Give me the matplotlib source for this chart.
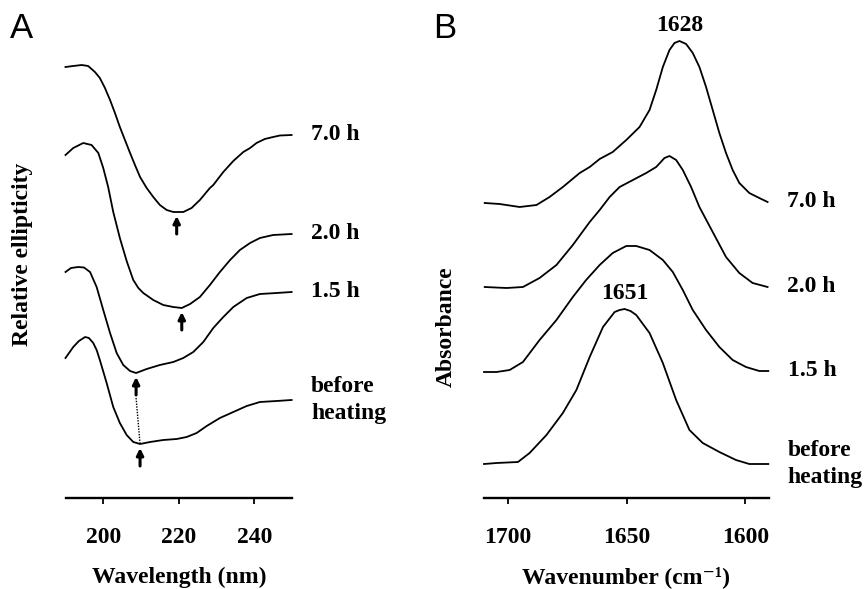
import matplotlib
matplotlib.use("Agg")
import matplotlib.pyplot as plt
import numpy as np

# ---------------- Panel A: CD spectra (relative ellipticity, arbitrary units) ----------------
wl_70 = [190.0, 192.05, 194.3, 196.0, 197.8, 199.1, 200.45, 201.8, 203.1, 204.4, 205.75, 207.1,
         208.4, 209.75, 211.5, 213.25, 215.0, 216.8, 218.55, 219.45, 221.2, 223.4, 225.6, 228.25,
         229.15, 231.8, 234.45, 237.1, 238.9, 240.6, 242.8, 245.0, 246.8, 249.9]
cd_70 = [4.31, 4.32, 4.33, 4.32, 4.26, 4.20, 4.10, 3.98, 3.85, 3.71, 3.58, 3.45,
         3.33, 3.21, 3.10, 3.01, 2.93, 2.88, 2.86, 2.86, 2.86, 2.90, 2.98, 3.10,
         3.13, 3.26, 3.37, 3.46, 3.50, 3.55, 3.59, 3.61, 3.625, 3.63]

wl_20 = [190.0, 192.05, 194.7, 196.9, 198.7, 200.0, 201.3, 202.65, 204.4, 206.2, 207.95, 209.3,
         210.6, 213.25, 215.9, 218.55, 220.8, 223.0, 225.6, 228.25, 230.9, 233.6, 236.2, 238.9,
         241.5, 245.0, 249.9]
cd_20 = [3.43, 3.50, 3.55, 3.53, 3.45, 3.30, 3.11, 2.86, 2.60, 2.37, 2.18, 2.10,
         2.05, 1.98, 1.93, 1.91, 1.90, 1.94, 2.01, 2.13, 2.26, 2.38, 2.48, 2.55,
         2.60, 2.63, 2.64]

wl_15 = [190.0, 191.45, 193.4, 194.9, 196.5, 198.25, 200.0, 201.8, 203.55, 205.3, 207.1, 208.7,
         211.5, 215.0, 218.55, 221.2, 223.85, 226.5, 229.15, 231.8, 234.45, 238.0, 241.5, 245.9,
         249.9]
cd_15 = [2.26, 2.30, 2.31, 2.305, 2.26, 2.11, 1.88, 1.65, 1.45, 1.33, 1.27, 1.25,
         1.29, 1.33, 1.36, 1.40, 1.46, 1.56, 1.70, 1.81, 1.91, 2.00, 2.04, 2.05,
         2.06]

wl_00 = [190.0, 192.05, 193.55, 195.2, 196.2, 197.35, 198.25, 199.1, 200.9, 202.65, 204.4, 206.2,
         207.95, 209.75, 212.4, 215.9, 219.45, 222.1, 224.75, 227.4, 230.9, 234.45, 238.0, 241.5,
         245.9, 249.9]
cd_00 = [1.40, 1.51, 1.57, 1.61, 1.60, 1.55, 1.48, 1.38, 1.15, 0.91, 0.75, 0.63,
         0.56, 0.54, 0.56, 0.58, 0.59, 0.61, 0.65, 0.72, 0.80, 0.86, 0.92, 0.96,
         0.97, 0.98]

cd_labels = ["7.0 h", "2.0 h", "1.5 h", "before\nheating"]
cd_minima = [219.45, 220.8, 208.7, 209.75]   # arrow positions (nm)
wl_ticks = [200, 220, 240]

# ---------------- Panel B: FTIR amide I (absorbance, arbitrary units) ----------------
wn_70 = [1709.7, 1703.4, 1695.0, 1687.9, 1682.4, 1676.8, 1669.7, 1665.5, 1661.3, 1655.8, 1650.1,
         1644.5, 1640.3, 1637.5, 1634.7, 1631.9, 1629.8, 1627.7, 1624.9, 1622.1, 1619.3, 1616.5,
         1613.7, 1610.9, 1608.1, 1605.3, 1602.5, 1598.3, 1594.1, 1590.6]
ab_70 = [2.95, 2.94, 2.91, 2.93, 3.01, 3.11, 3.25, 3.31, 3.39, 3.46, 3.58,
         3.71, 3.88, 4.08, 4.31, 4.48, 4.55, 4.57, 4.54, 4.45, 4.31, 4.11,
         3.88, 3.65, 3.45, 3.28, 3.15, 3.05, 3.00, 2.96]

wn_20 = [1709.7, 1700.5, 1693.6, 1686.6, 1679.5, 1672.6, 1665.5, 1661.3, 1657.1, 1652.9, 1647.3,
         1641.7, 1637.5, 1634.0, 1631.9, 1629.1, 1626.3, 1622.8, 1619.3, 1613.7, 1608.1, 1602.5,
         1596.9, 1590.6]
ab_20 = [2.11, 2.10, 2.11, 2.20, 2.33, 2.53, 2.76, 2.88, 3.01, 3.11, 3.18,
         3.25, 3.31, 3.40, 3.42, 3.38, 3.28, 3.11, 2.91, 2.66, 2.41, 2.25,
         2.15, 2.11]

wn_15 = [1710.0, 1704.7, 1699.2, 1693.6, 1686.6, 1679.5, 1672.6, 1667.0, 1661.3, 1655.8, 1650.1,
         1645.9, 1640.3, 1634.7, 1630.5, 1626.3, 1622.1, 1616.5, 1610.9, 1605.3, 1599.7, 1594.1,
         1590.3]
ab_15 = [1.26, 1.26, 1.28, 1.36, 1.58, 1.78, 2.01, 2.18, 2.33, 2.45, 2.52,
         2.52, 2.48, 2.38, 2.26, 2.08, 1.88, 1.68, 1.51, 1.38, 1.31, 1.27,
         1.27]

wn_00 = [1710.0, 1704.7, 1695.7, 1690.8, 1683.7, 1676.8, 1671.1, 1665.5, 1659.9, 1655.0, 1652.9,
         1650.8, 1648.3, 1645.9, 1640.3, 1634.7, 1629.1, 1623.5, 1617.9, 1610.9, 1603.9, 1598.3,
         1590.3]
ab_00 = [0.34, 0.35, 0.36, 0.45, 0.63, 0.85, 1.08, 1.41, 1.71, 1.86, 1.88,
         1.89, 1.87, 1.83, 1.65, 1.35, 0.98, 0.68, 0.55, 0.46, 0.38, 0.34,
         0.34]

ir_labels = ["7.0 h", "2.0 h", "1.5 h", "before\nheating"]
ir_peaks = [("1628", 1627.7, 4.57), ("1651", 1650.8, 1.89)]
wn_ticks = [1700, 1650, 1600]

# ---------------- Figure ----------------
W, H = 865, 589
fig = plt.figure(figsize=(W / 100, H / 100), dpi=100)
serif = "Liberation Serif"
fs = 17

def px_axes(x0, x1, ybot, ytop):
    return fig.add_axes([x0 / W, 1 - ybot / H, (x1 - x0) / W, (ybot - ytop) / H])

axA = px_axes(65.5, 292, 498, 30)
axB = px_axes(484, 769, 498, 30)

for ax in (axA, axB):
    for s in ("left", "top", "right"):
        ax.spines[s].set_visible(False)
    ax.spines["bottom"].set_linewidth(1.7)
    ax.set_yticks([])
    ax.tick_params(axis="x", direction="out", length=4, width=1.3, pad=17)
    ax.set_ylim(0, 4.68)
    ax.patch.set_alpha(0)

axA.set_xlim(190, 250)
axB.set_xlim(1710, 1590)

lw = 1.3
cdset = [(wl_70, cd_70), (wl_20, cd_20), (wl_15, cd_15), (wl_00, cd_00)]
for (x, y), lab, xm in zip(cdset, cd_labels, cd_minima):
    axA.plot(x, y, color="black", lw=lw, clip_on=False, solid_joinstyle="round")
    axA.annotate(lab, xy=(x[-1], y[-1]), xytext=(14, 0), textcoords="offset points",
                 ha="left", va="center", fontsize=fs, family=serif, weight="bold",
                 linespacing=1.38, annotation_clip=False)
    ymin = np.interp(xm, x, y)
    tip = ymin - 0.04
    axA.annotate("", xy=(xm, tip), xytext=(xm, tip - 0.18),
                 arrowprops=dict(arrowstyle="-|>", color="black", lw=2.2,
                                 mutation_scale=10, shrinkA=0, shrinkB=0))

# dotted connector between 1.5 h and before-heating minima
y15 = np.interp(cd_minima[2], wl_15, cd_15) - 0.04 - 0.18 - 0.03
y00 = np.interp(cd_minima[3], wl_00, cd_00)
axA.plot([cd_minima[2], cd_minima[3]], [y15, y00], color="black", lw=1.0, ls=(0, (1, 1)))

axA.set_xticks(wl_ticks)
axA.set_xticklabels([str(t) for t in wl_ticks], fontsize=fs, family=serif, weight="bold")

irset = [(wn_70, ab_70), (wn_20, ab_20), (wn_15, ab_15), (wn_00, ab_00)]
for (x, y), lab in zip(irset, ir_labels):
    axB.plot(x, y, color="black", lw=lw, clip_on=False, solid_joinstyle="round")
    axB.annotate(lab, xy=(x[-1], y[-1]), xytext=(14, 0), textcoords="offset points",
                 ha="left", va="center", fontsize=fs, family=serif, weight="bold",
                 linespacing=1.38, annotation_clip=False)

for txt, xp, yp in ir_peaks:
    axB.annotate(txt, xy=(xp, yp), xytext=(0, 11), textcoords="offset points",
                 ha="center", va="center", fontsize=fs, family=serif, weight="bold",
                 annotation_clip=False)

axB.set_xticks(wn_ticks)
axB.set_xticklabels([str(t) for t in wn_ticks], fontsize=fs, family=serif, weight="bold")

# axis titles
fig.text(179.5 / W, 1 - 577 / H, "Wavelength (nm)", ha="center", va="center",
         fontsize=fs, family=serif, weight="bold")
fig.text(626 / W, 1 - 577 / H, "Wavenumber (cm\u207b\u00b9)", ha="center", va="center",
         fontsize=fs, family=[serif, "DejaVu Serif"], weight="bold")
fig.text(23 / W, 1 - 254 / H, "Relative ellipticity", ha="center", va="center",
         rotation=90, fontsize=fs, family=serif, weight="bold")
fig.text(446 / W, 1 - 327 / H, "Absorbance", ha="center", va="center",
         rotation=90, fontsize=fs, family=serif, weight="bold")

# panel letters
fig.text(22 / W, 1 - 28 / H, "A", ha="center", va="center", fontsize=25, family="Liberation Sans")
fig.text(445 / W, 1 - 28 / H, "B", ha="center", va="center", fontsize=25, family="Liberation Sans")

fig.savefig("out.png", dpi=100)
